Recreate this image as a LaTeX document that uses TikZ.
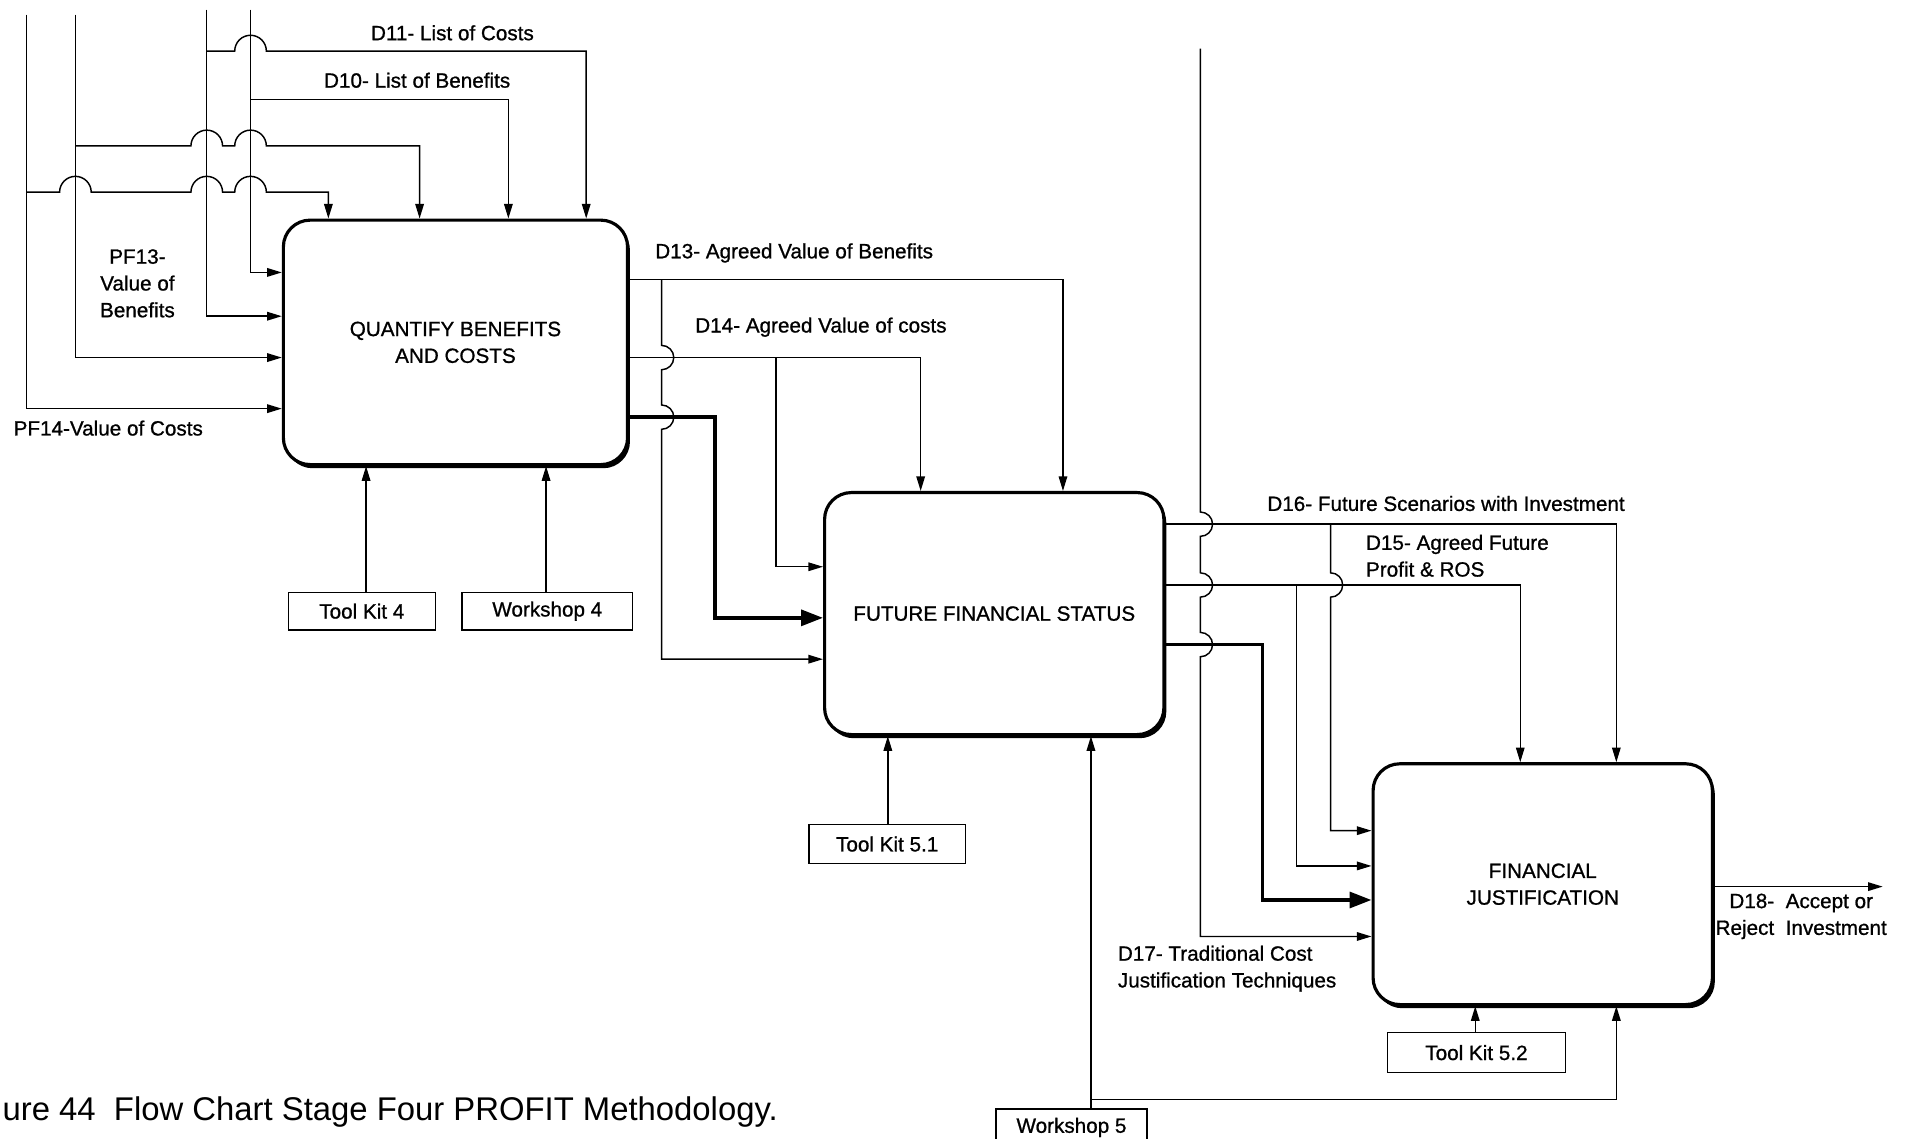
\documentclass[tikz,border=0pt]{standalone}
\usepackage{fontspec}
\setmainfont{Liberation Sans}
\newfontfamily\diagfam[FakeBold=0.9]{Liberation Sans}
\usetikzlibrary{arrows.meta,shadows}
\newcommand\diagfont{\diagfam\fontsize{17}{22}\selectfont}
\newcommand\captfont{\fontsize{27}{32}\selectfont}
\begin{document}
\begin{tikzpicture}[x=1pt,y=-1pt,
  proc/.style={draw, line width=2.6pt, rounded corners=22pt, fill=white,
    align=center, font=\diagfont, inner sep=0pt,
    drop shadow={shadow xshift=2pt, shadow yshift=-3pt, fill=black, opacity=1}},
  tool/.style={draw, line width=1.2pt, fill=white, font=\diagfont, inner sep=0pt},
  lbl/.style={font=\diagfont, inner sep=0pt, align=center},
  wire/.style={line width=1.1pt},
  link/.style={line width=1.2pt, -{Triangle[length=12pt,width=7pt]}},
  heavy/.style={line width=3pt, -{Triangle[length=18pt,width=13pt]}}]

\useasboundingbox (0,0) rectangle (1568,936);

% ---------- activity boxes ----------
\node[proc, minimum width=283pt, minimum height=201pt] (q) at (374.5,281.5)
  {QUANTIFY BENEFITS\\AND COSTS};
\node[proc, minimum width=279pt, minimum height=199pt] (f) at (817.5,504.5)
  {FUTURE FINANCIAL STATUS};
\node[proc, minimum width=279pt, minimum height=198pt] (j) at (1268.5,727)
  {FINANCIAL\\JUSTIFICATION};

% ---------- mechanism boxes ----------
\node[tool, minimum width=121pt, minimum height=31pt] (tk4) at (297.5,502.5) {Tool Kit 4};
\node[tool, minimum width=140pt, minimum height=31pt] (ws4) at (450,502.5) {Workshop 4};
\node[tool, minimum width=129pt, minimum height=32pt] (tk51) at (729.5,694) {Tool Kit 5.1};
\node[tool, minimum width=146pt, minimum height=33pt] (tk52) at (1214,865.5) {Tool Kit 5.2};
\node[tool, minimum width=124pt, minimum height=30pt] (ws5) at (881,927) {Workshop 5};

% ---------- inputs of the first box ----------
\coordinate (a0) at (22,12);  \coordinate (a1) at (22,336);
\coordinate (b0) at (62,12);  \coordinate (b1) at (62,294);
\coordinate (c0) at (170,8);  \coordinate (c1) at (170,260);
\coordinate (d0) at (206,8);  \coordinate (d1) at (206,224);
\draw[link] (a0) -- (a1) -- (a1 -| q.west);
\draw[link] (b0) -- (b1) -- (b1 -| q.west);
\draw[link] (c0) -- (c1) -- (c1 -| q.west);
\draw[link] (d0) -- (d1) -- (d1 -| q.west);

% branches running over the top, hopping the verticals
\coordinate (e0) at (22,158);  \coordinate (e1) at (270,158);
\coordinate (g0) at (62,120);  \coordinate (g1) at (345,120);
\coordinate (h0) at (170,42);  \coordinate (h1) at (482,42);
\coordinate (k0) at (206,82);  \coordinate (k1) at (418,82);
\draw[link] (e0) -- (49,158) arc[start angle=180,end angle=360,radius=13]
  -- (157,158) arc[start angle=180,end angle=360,radius=13]
  -- (193,158) arc[start angle=180,end angle=360,radius=13]
  -- (e1) -- (e1 |- q.north);
\draw[link] (g0) -- (157,120) arc[start angle=180,end angle=360,radius=13]
  -- (193,120) arc[start angle=180,end angle=360,radius=13]
  -- (g1) -- (g1 |- q.north);
\draw[link] (h0) -- (193,42) arc[start angle=180,end angle=360,radius=13]
  -- (h1) -- (h1 |- q.north);
\draw[link] (k0) -- (k1) -- (k1 |- q.north);

% ---------- outputs of the first box ----------
\coordinate (m0) at (516,230); \coordinate (m1) at (874,230); \coordinate (m2) at (544,230);
\coordinate (m3) at (544,542);
\coordinate (n0) at (516,294); \coordinate (n1) at (757,294); \coordinate (n2) at (638,294);
\coordinate (n3) at (638,466);
\coordinate (p0) at (516,343); \coordinate (p1) at (588,343); \coordinate (p2) at (588,508);
\draw[link] (m0 -| q.east) -- (m1) -- (m1 |- f.north);
\draw[link] (m2) -- (544,284) arc[start angle=-90,end angle=90,radius=10]
  -- (544,333) arc[start angle=-90,end angle=90,radius=10]
  -- (m3) -- (m3 -| f.west);
\draw[link] (n0 -| q.east) -- (n1) -- (n1 |- f.north);
\draw[link] (n2) -- (n3) -- (n3 -| f.west);
\draw[heavy] (p0 -| q.east) -- (p1) -- (p2) -- (p2 -| f.west);

% ---------- outputs of the second box ----------
\coordinate (r0) at (957,431); \coordinate (r1) at (1329,431); \coordinate (r2) at (1094,431);
\coordinate (r3) at (1094,683);
\coordinate (s0) at (957,481); \coordinate (s1) at (1250,481); \coordinate (s2) at (1066,481);
\coordinate (s3) at (1066,712);
\coordinate (t0) at (957,530); \coordinate (t1) at (1038,530); \coordinate (t2) at (1038,740);
\coordinate (u0) at (987,40);  \coordinate (u1) at (987,770);
\draw[link] (r0 -| f.east) -- (r1) -- (r1 |- j.north);
\draw[link] (r2) -- (1094,471) arc[start angle=-90,end angle=90,radius=10]
  -- (r3) -- (r3 -| j.west);
\draw[link] (s0 -| f.east) -- (s1) -- (s1 |- j.north);
\draw[link] (s2) -- (s3) -- (s3 -| j.west);
\draw[heavy] (t0 -| f.east) -- (t1) -- (t2) -- (t2 -| j.west);
\draw[link] (u0) -- (987,421) arc[start angle=-90,end angle=90,radius=10]
  -- (987,471) arc[start angle=-90,end angle=90,radius=10]
  -- (987,520) arc[start angle=-90,end angle=90,radius=10]
  -- (u1) -- (u1 -| j.west);

% ---------- output of the third box ----------
\coordinate (o1) at (1548,729);
\draw[link] (o1 -| j.east) -- (o1);

% ---------- mechanisms ----------
\coordinate (w1) at (301,0);
\coordinate (w2) at (449,0);
\coordinate (w3) at (730,0);
\coordinate (w4) at (897,0);
\coordinate (w5) at (897,904); \coordinate (w6) at (1329,904);
\coordinate (w7) at (1213,0);
\draw[link] (w1 |- tk4.north) -- (w1 |- q.south);
\draw[link] (w2 |- ws4.north) -- (w2 |- q.south);
\draw[link] (w3 |- tk51.north) -- (w3 |- f.south);
\draw[link] (w4 |- ws5.north) -- (w4 |- f.south);
\draw[link] (w5) -- (w6) -- (w6 |- j.south);
\draw[link] (w7 |- tk52.north) -- (w7 |- j.south);

% ---------- labels ----------
\node[lbl] (l11) at (372,27) {D11- List of Costs};
\node[lbl] (l10) at (343,66) {D10- List of Benefits};
\node[lbl] (l13) at (113,233) {PF13-\\Value of\\Benefits};
\node[lbl] (l14) at (89,352) {PF14-Value of Costs};
\node[lbl] (ld13) at (653,208) {D13- Agreed Value of Benefits};
\node[lbl] (ld14) at (675,269) {D14- Agreed Value of costs};
\node[lbl] (ld16) at (1189,414) {D16- Future Scenarios with Investment};
\node[lbl, align=left, anchor=west] (ld15) at (1123,457) {D15- Agreed Future\\Profit \& ROS};
\node[lbl, align=left, anchor=west] (ld17) at (919,796.5) {D17- Traditional Cost\\Justification Techniques};
\node[lbl] (ld18) at (1481,753.5) {D18-\ \ Accept or\\Reject\ \ Investment};

\node[font=\captfont, inner sep=0pt, anchor=west] (cap) at (2,914)
  {ure 44\ \ Flow Chart Stage Four PROFIT Methodology.};
\end{tikzpicture}
\end{document}
